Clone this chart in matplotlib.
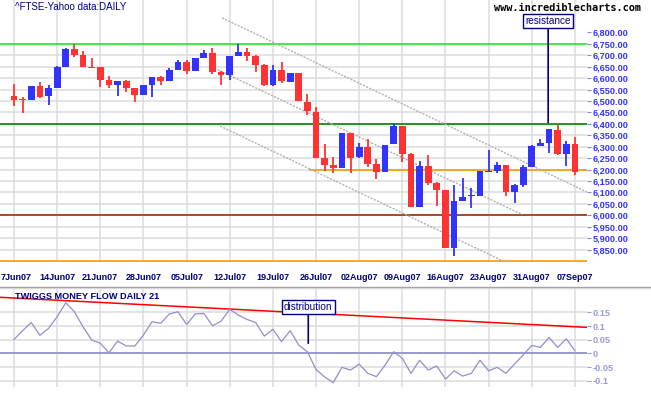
import matplotlib
matplotlib.use("Agg")
import matplotlib.pyplot as plt
import matplotlib.transforms as mtransforms
import pandas as pd
from matplotlib.lines import Line2D

plt.rcParams['font.family'] = ['Liberation Sans', 'DejaVu Sans']

# ---------------- data ----------------
dates = [d for d in pd.bdate_range('2007-06-07', '2007-09-07') if d != pd.Timestamp('2007-08-27')]

opens = [6521, 6507, 6506, 6565, 6521, 6559, 6649, 6728, 6701, 6650,
         6649, 6594, 6568, 6589, 6558, 6528, 6572, 6606, 6589, 6636,
         6671, 6633, 6689, 6711, 6628, 6616, 6699, 6715, 6699, 6659,
         6568, 6636, 6585, 6623, 6496, 6452, 6251, 6218, 6208, 6361,
         6253, 6301, 6225, 6191, 6311, 6391, 6270, 6038, 6216, 6143,
         6111, 5859, 6064, 6084, 6086, 6191, 6196, 6221, 6104, 6133,
         6213, 6305, 6316, 6374, 6269, 6312]
highs = [6575, 6518, 6566, 6584, 6568, 6655, 6732, 6750, 6718, 6689,
         6650, 6611, 6589, 6594, 6559, 6570, 6607, 6611, 6645, 6679,
         6681, 6690, 6722, 6733, 6633, 6697, 6750, 6733, 6700, 6660,
         6659, 6671, 6624, 6624, 6531, 6474, 6313, 6256, 6362, 6362,
         6318, 6334, 6246, 6309, 6403, 6392, 6271, 6238, 6264, 6144,
         6112, 6133, 6164, 6119, 6195, 6286, 6232, 6222, 6138, 6221,
         6309, 6334, 6378, 6393, 6326, 6342]
lows = [6477, 6448, 6505, 6514, 6484, 6558, 6649, 6693, 6649, 6646,
        6562, 6558, 6524, 6540, 6496, 6527, 6518, 6572, 6588, 6635,
        6619, 6632, 6688, 6619, 6572, 6594, 6698, 6677, 6628, 6567,
        6567, 6579, 6584, 6498, 6438, 6251, 6193, 6186, 6207, 6186,
        6252, 6213, 6159, 6190, 6310, 6232, 6037, 6037, 6133, 6041,
        5858, 5824, 6063, 6034, 6085, 6190, 6184, 6086, 6056, 6126,
        6212, 6304, 6274, 6264, 6216, 6177]
closes = [6506, 6503, 6565, 6518, 6557, 6651, 6728, 6703, 6649, 6646,
          6594, 6568, 6589, 6558, 6528, 6569, 6606, 6589, 6635, 6671,
          6633, 6689, 6711, 6628, 6616, 6696, 6715, 6699, 6659, 6568,
          6636, 6587, 6623, 6499, 6456, 6251, 6218, 6209, 6361, 6251,
          6301, 6225, 6191, 6308, 6391, 6270, 6038, 6216, 6143, 6111,
          5859, 6063, 6079, 6087, 6194, 6196, 6221, 6104, 6133, 6211,
          6304, 6316, 6376, 6269, 6312, 6191]

money_flow = [0.051, 0.083, 0.113, 0.066, 0.091, 0.134, 0.185, 0.152, 0.097, 0.049,
              0.037, 0.002, 0.045, 0.027, 0.027, 0.067, 0.116, 0.110, 0.144, 0.152,
              0.106, 0.144, 0.146, 0.101, 0.118, 0.161, 0.140, 0.124, 0.113, 0.063,
              0.088, 0.043, 0.083, 0.030, 0.006, -0.059, -0.086, -0.107, -0.051, -0.061,
              -0.039, -0.073, -0.085, -0.043, 0.006, -0.018, -0.073, -0.025, -0.061, -0.046,
              -0.094, -0.064, -0.083, -0.073, -0.025, -0.064, -0.051, -0.073, -0.039, -0.006,
              0.029, 0.022, 0.058, 0.022, 0.053, 0.010]

# horizontal levels: (price, colour, start index or None)
level_prices = [6750, 6400, 6200, 6000, 5800]
level_colors = ['#22ee22', '#008800', '#ff9900', '#993300', '#ff9900']
level_starts = [None, None, 34.2, None, None]

# trend channel lines: (start index, start price, end index, end price)
channel_x0 = [24.1, 23.6, 23.9]
channel_p0 = [6864, 6637, 6390]
channel_x1 = [66.4, 58.9, 57.5]
channel_p1 = [6102, 6003, 5785]

# signal line on money flow
signal_x = [-1.62, 66.4]
signal_v = [0.205, 0.095]

price_ticks = list(range(5850, 6801, 50))
mf_ticks = [-0.1, -0.05, 0, 0.05, 0.1, 0.15]
mf_tick_labels = ['-0.1', '-0.05', '0', '0.05', '0.1', '0.15']

# annotations
resist_x, resist_p, resist_text_p = 61.9, 6406, 6850
distr_x, distr_v, distr_text_v = 34.1, 0.037, 0.168

# ---------------- figure ----------------
W, H = 651, 395
fig = plt.figure(figsize=(W / 100, H / 100), dpi=100)
fig.patch.set_facecolor('white')

xl = (-1.622, 66.40)
ax1 = fig.add_axes([0, 1 - 261.7 / H, 587 / W, 261.7 / H])
ax2 = fig.add_axes([0, 1 - 387 / H, 587 / W, (387 - 289) / H])

grid_c = '#dcdcdc'
navy = '#000080'
idx = list(range(len(dates)))
tick_idx = idx[::5]
tick_lbl = [dates[i].strftime('%d%b%y') for i in tick_idx]
tick_lbl[0] = tick_lbl[0].lstrip('0')

# ---- main panel ----
ax1.set_xlim(*xl)
ax1.set_ylim(5797, 6942)
for s in ax1.spines.values():
    s.set_visible(False)
ax1.yaxis.tick_right()
ax1.set_yticks(price_ticks)
ax1.set_yticklabels([f'{v:,.2f}' for v in price_ticks], color='#3333ff',
                    fontsize=6.6, fontweight='bold')
ax1.tick_params(axis='y', length=3, width=0.8, color='#8888cc', pad=1)
ax1.set_xticks(tick_idx)
ax1.set_xticklabels(tick_lbl, color=navy, fontsize=6.5, fontweight='bold')
ax1.tick_params(axis='x', length=0, pad=8)
first = ax1.get_xticklabels()[0]
first.set_ha('left')
first.set_transform(first.get_transform() +
                    mtransforms.ScaledTranslation(-13.5 / 100, 0, fig.dpi_scale_trans))
ax1.grid(True, color=grid_c, lw=1.1, zorder=0)
ax1.set_axisbelow(True)
ax1.get_ygridlines()[-1].set_visible(False)

for p, c, st in zip(level_prices, level_colors, level_starts):
    if st is None:
        ax1.axhline(p, color=c, lw=1.2, zorder=2)
    else:
        ax1.hlines(p, st, xl[1], color=c, lw=1.2, zorder=2)

for x0, p0, x1, p1 in zip(channel_x0, channel_p0, channel_x1, channel_p1):
    ax1.plot([x0, x1], [p0, p1], color='#b0b0b0', lw=1.0, ls=(0, (1.5, 1)), zorder=2)

bw = 0.78
for i, (o, h, l, c) in enumerate(zip(opens, highs, lows, closes)):
    col = '#3333ff' if c >= o else '#ff3333'
    ax1.vlines(i, l, h, color=col, lw=1.3, zorder=3)
    lo, hi = min(o, c), max(o, c)
    ax1.bar(i, max(hi - lo, 2.5), bw, bottom=lo, color=col, zorder=4, linewidth=0)

ax1.text(0.025, 0.993, '^FTSE-Yahoo data:DAILY', transform=ax1.transAxes,
         color=navy, fontsize=7.0, va='top', ha='left')
fig.text(641 / W, 1 - 8 / H, 'www.incrediblecharts.com', color='black',
         fontsize=7.4, fontweight='bold', family='DejaVu Sans Mono', ha='right', va='center')

ax1.annotate('resistance', xy=(resist_x, resist_p), xytext=(resist_x, resist_text_p),
             ha='center', va='center', color=navy, fontsize=7.2,
             bbox=dict(boxstyle='square,pad=0.2', fc='white', ec=navy, lw=1),
             arrowprops=dict(arrowstyle='-', color=navy, lw=1.2, shrinkA=0, shrinkB=0),
             zorder=6)

# separator
fig.add_artist(Line2D([0, 1], [1 - 286.5 / H] * 2, color='#999999', lw=1))
fig.add_artist(Line2D([0, 1], [1 - 287.8 / H] * 2, color='#d8d8d8', lw=1))

# ---- money flow panel ----
ax2.set_xlim(*xl)
ax2.set_ylim(-0.1229, 0.2353)
for s in ax2.spines.values():
    s.set_visible(False)
ax2.yaxis.tick_right()
ax2.set_yticks(mf_ticks)
ax2.set_yticklabels(mf_tick_labels, color='#9999dd', fontsize=6.6, fontweight='bold')
ax2.tick_params(axis='y', length=3, width=0.8, color='#9999dd', pad=1)
ax2.set_xticks(tick_idx)
ax2.tick_params(axis='x', length=0, labelbottom=False)
ax2.grid(True, color=grid_c, lw=1.1, zorder=0)
ax2.set_axisbelow(True)

ax2.axhline(0, color='#8c8cc8', lw=1.2, zorder=2)
ax2.plot(signal_x, signal_v, color='#ff0000', lw=1.1, zorder=3)
ax2.plot(idx, money_flow, color='#9090cc', lw=0.9, zorder=4)
ax2.text(15 / 587, 0.97, 'TWIGGS MONEY FLOW DAILY 21', transform=ax2.transAxes,
         color=navy, fontsize=6.6, fontweight='bold', va='top', ha='left', zorder=5)
ax2.annotate('distribution', xy=(distr_x, distr_v), xytext=(distr_x, distr_text_v),
             ha='center', va='center', color=navy, fontsize=7.2,
             bbox=dict(boxstyle='square,pad=0.2', fc='white', ec=navy, lw=1),
             arrowprops=dict(arrowstyle='-', color=navy, lw=1.2, shrinkA=0, shrinkB=0),
             zorder=6)

fig.savefig('out.png', dpi=100)
